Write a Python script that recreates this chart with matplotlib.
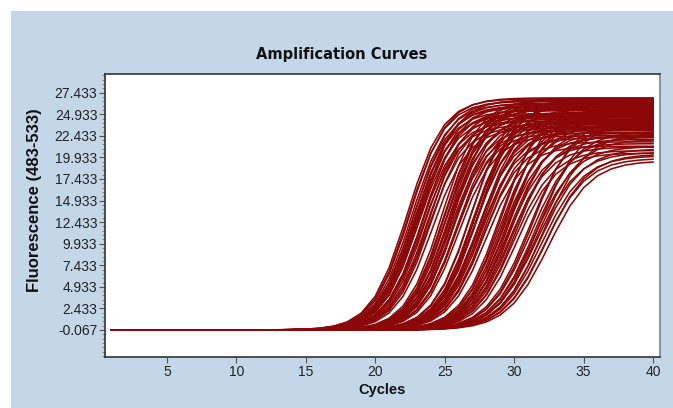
import numpy as np
import matplotlib
matplotlib.use('Agg')
import matplotlib.pyplot as plt
from matplotlib.patches import Rectangle
from matplotlib.ticker import FixedLocator

# cycle numbers read on the x axis
cycles = np.arange(1, 41)

# per-well midpoint cycle and plateau fluorescence, one band at a time
ct_a = [22.3, 22.4, 22.5, 22.6, 22.7, 22.8, 22.8, 22.9, 22.9, 23.0, 23.0, 23.1,
        23.2, 23.2, 23.3, 23.4, 23.4, 23.5, 23.6, 23.7, 23.8, 23.9, 24.0, 24.1]
plateau_a = [26.8, 26.5, 26.9, 26.2, 25.8, 26.6, 25.4, 26.0, 24.9, 26.3, 25.1, 24.6,
             25.9, 26.7, 24.2, 25.5, 23.8, 26.1, 25.0, 24.4, 23.6, 25.7, 24.8, 23.4]

ct_b = [24.8, 24.9, 25.0, 25.0, 25.1, 25.2, 25.2, 25.3, 25.3, 25.4,
        25.4, 25.5, 25.5, 25.6, 25.7, 25.7, 25.8, 25.9, 25.9, 26.0]
plateau_b = [26.6, 25.9, 26.3, 24.8, 25.6, 26.8, 24.1, 25.2, 26.0, 23.5,
             24.6, 25.8, 23.1, 26.4, 24.3, 25.0, 22.8, 24.0, 23.3, 22.5]

ct_c = [26.8, 26.9, 27.0, 27.0, 27.1, 27.2, 27.2, 27.3, 27.3, 27.4,
        27.4, 27.5, 27.5, 27.6, 27.7, 27.7, 27.8, 27.9, 27.9, 28.0]
plateau_c = [25.9, 26.7, 24.7, 25.3, 23.9, 26.2, 24.4, 22.9, 25.6, 23.5,
             26.5, 24.0, 22.3, 25.0, 23.2, 24.6, 21.8, 23.7, 22.6, 21.3]

ct_d = [28.9, 29.0, 29.1, 29.2, 29.2, 29.3, 29.4, 29.4, 29.5,
        29.5, 29.6, 29.7, 29.7, 29.8, 29.9, 30.0, 30.1, 30.2]
plateau_d = [25.4, 24.1, 26.3, 23.2, 24.8, 22.4, 25.7, 23.7, 21.6,
             24.4, 22.9, 25.1, 21.2, 23.4, 22.1, 20.8, 22.6, 20.5]

ct_e = [31.1, 31.2, 31.3, 31.4, 31.5, 31.6, 31.7, 31.8, 31.9, 32.0, 32.1, 32.2, 32.3, 32.5]
plateau_e = [23.9, 22.4, 24.6, 21.3, 23.0, 20.6, 22.1, 24.2, 21.0, 20.2, 22.8, 19.9, 20.4, 19.6]

# steepness of each band (cycles per logit unit)
band_width = [1.3, 1.3, 1.35, 1.4, 1.5]
baseline = -0.067

y_ticks = [-0.067, 2.433, 4.933, 7.433, 9.933, 12.433, 14.933,
           17.433, 19.933, 22.433, 24.933, 27.433]
x_ticks = [5, 10, 15, 20, 25, 30, 35, 40]

bands = [(ct_a, plateau_a), (ct_b, plateau_b), (ct_c, plateau_c),
         (ct_d, plateau_d), (ct_e, plateau_e)]

fig = plt.figure(figsize=(6.73, 4.08), dpi=100, facecolor='white')
fig.patches.append(Rectangle((11 / 673, 0), 1, 1 - 11 / 408, transform=fig.transFigure,
                             facecolor='#c4d7e8', edgecolor='none', zorder=-10))

ax = fig.add_axes([105 / 673, 51 / 408, 555 / 673, 283 / 408])
ax.set_facecolor('white')

red = '#8c0808'
for (cts, plats), w in zip(bands, band_width):
    for c, p in zip(cts, plats):
        fl = baseline + p / (1 + np.exp(-(cycles - c) / w))
        ax.plot(cycles, fl, color=red, lw=1.15, solid_joinstyle='round')

ax.set_xlim(0.55, 40.5)
ax.set_ylim(-3.2, 29.6)
ax.set_xticks(x_ticks)
ax.set_yticks(y_ticks)
ax.set_yticklabels(['%.3f' % v for v in y_ticks])
ax.yaxis.set_minor_locator(FixedLocator([baseline + 0.5 * k for k in range(-6, 60)]))

for lab in ax.get_xticklabels() + ax.get_yticklabels():
    lab.set_family('Liberation Sans')
    lab.set_fontsize(10)
    lab.set_color('#222222')
ax.tick_params(axis='both', which='major', length=4, width=0.8, color='#555555', pad=1.5)
ax.tick_params(axis='y', which='minor', length=2, width=0.6, color='#777777')

for s in ['left', 'bottom', 'top']:
    ax.spines[s].set_color('#333333')
    ax.spines[s].set_linewidth(1.2)
ax.spines['right'].set_color('#8a96a3')
ax.spines['right'].set_linewidth(1.5)

fig.text(342 / 673, 1 - 54 / 408, 'Amplification Curves', ha='center', va='center',
         fontsize=10.5, fontweight='bold', family='DejaVu Sans', color='#111111')
fig.text(35 / 673, 1 - 200 / 408, 'Fluorescence (483-533)', ha='center', va='center',
         rotation=90, fontsize=12, fontweight='bold',
         family='Liberation Sans', color='#111111')
fig.text(382 / 673, 1 - 390 / 408, 'Cycles', ha='center', va='center',
         fontsize=10.5, fontweight='bold',
         family='Liberation Sans', color='#111111')

fig.savefig('out.png', dpi=100)
